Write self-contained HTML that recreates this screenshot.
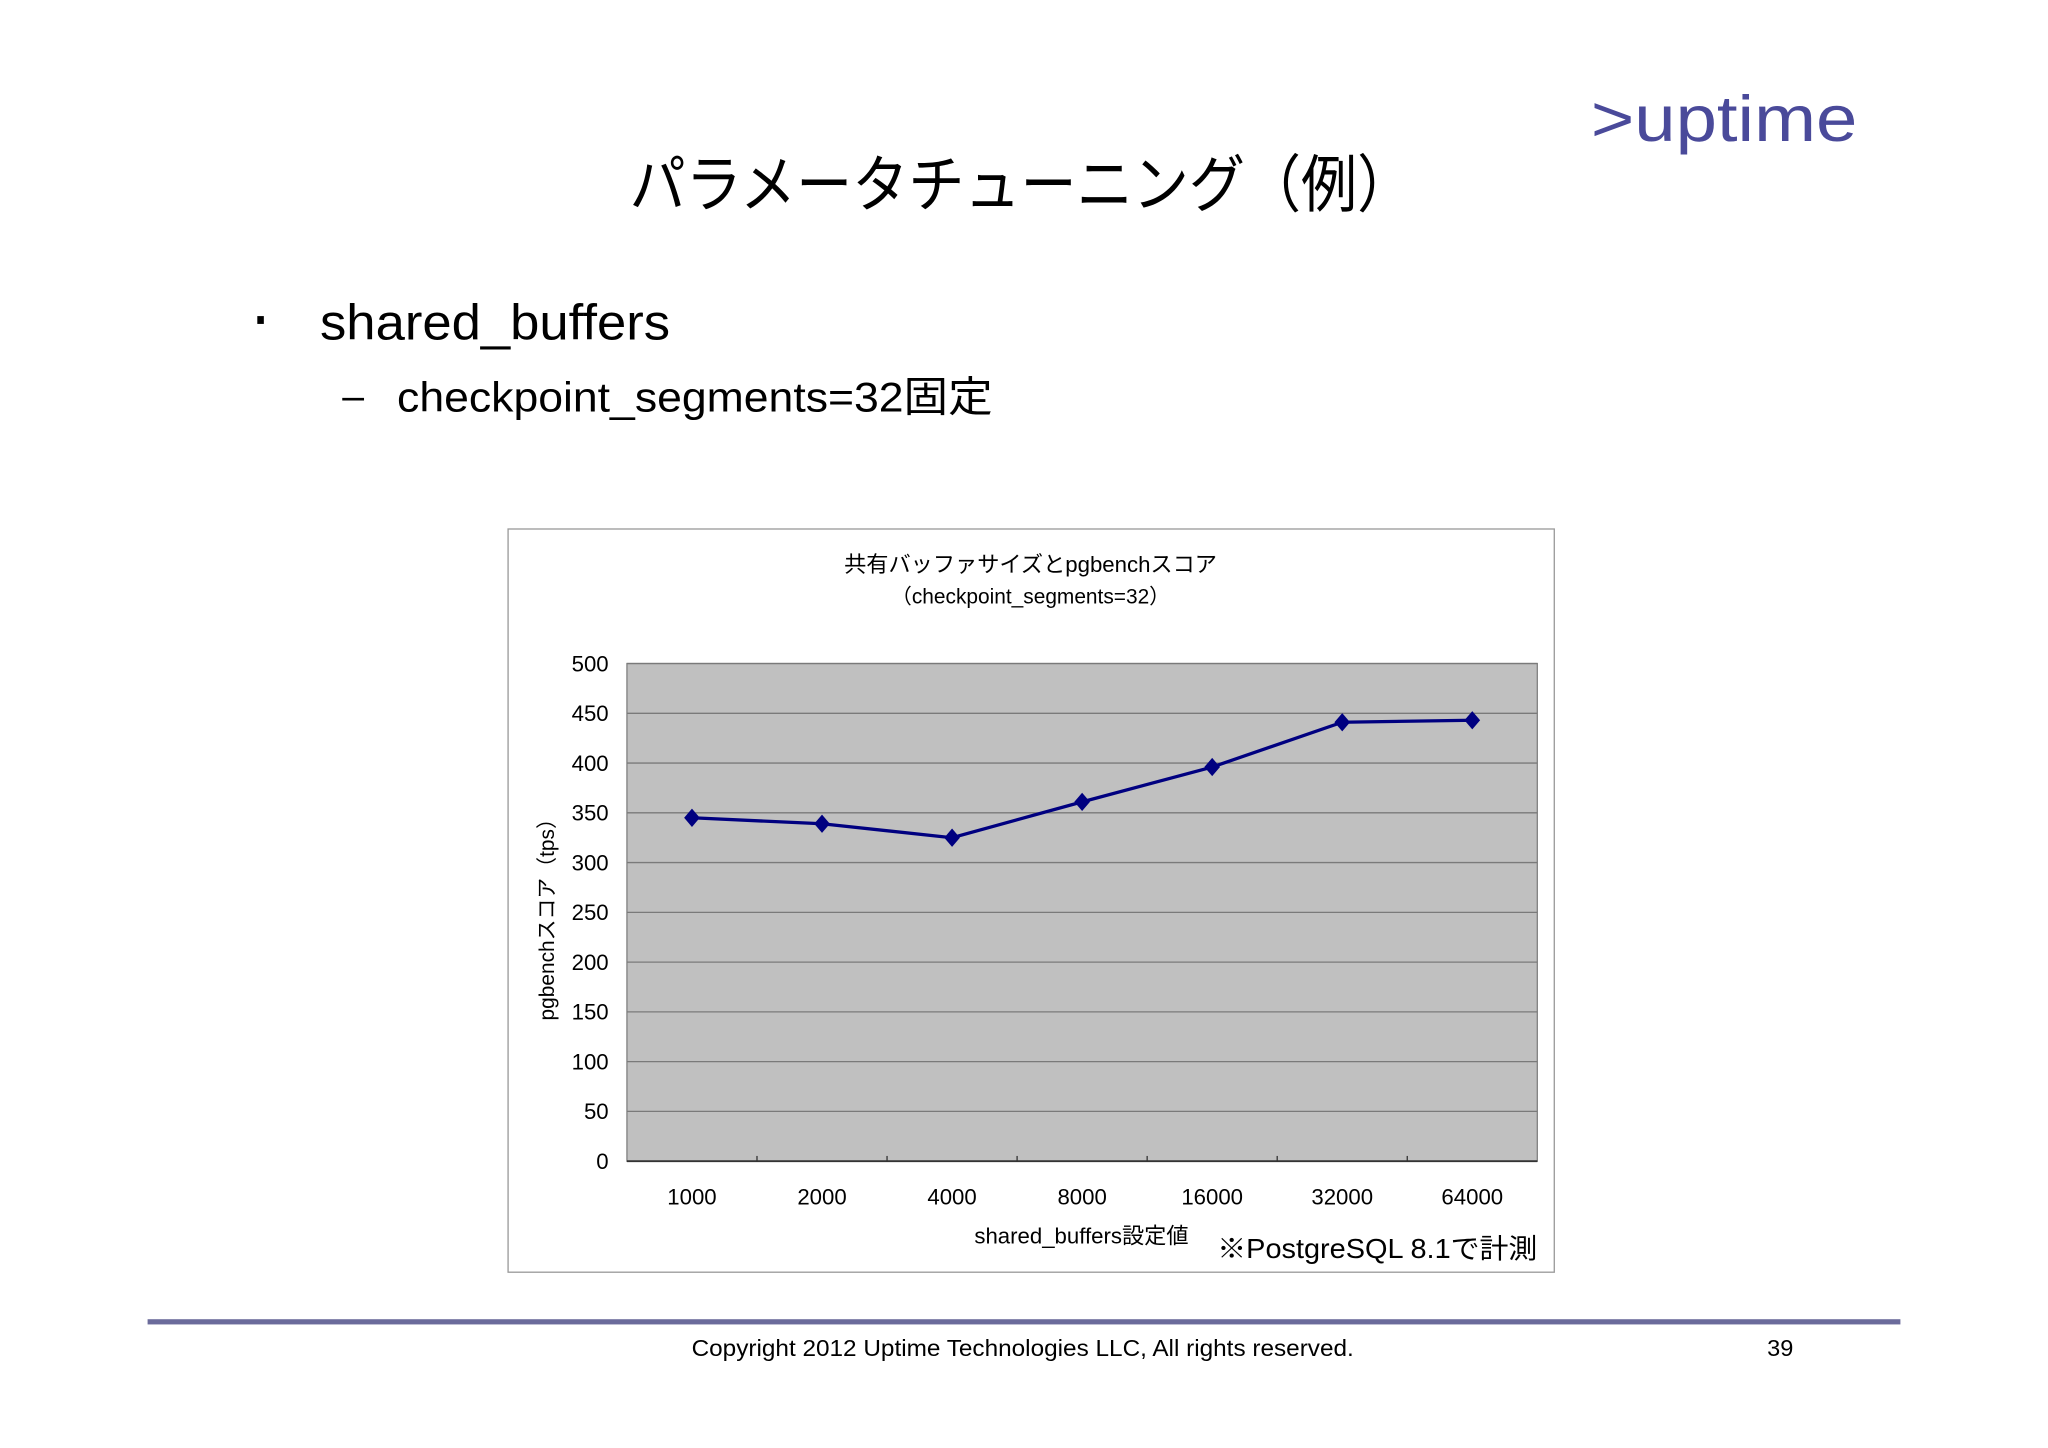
<!DOCTYPE html>
<html><head><meta charset="utf-8"><style>
html,body{margin:0;padding:0;background:#fff;}
svg{display:block;}
text{font-family:"Liberation Sans","Noto Sans CJK JP",sans-serif;}
</style></head><body>
<svg id="s" width="2048" height="1448" viewBox="0 0 1568 1108.6" preserveAspectRatio="none" xmlns="http://www.w3.org/2000/svg">
<rect width="1568" height="1108.6" fill="#fff"/>
<text x="1218" y="108" font-size="50" fill="#4a4a9a" font-family="DejaVu Sans" textLength="204" lengthAdjust="spacingAndGlyphs">&gt;uptime</text>
<text x="782" y="158" font-size="48" text-anchor="middle" textLength="600" lengthAdjust="spacingAndGlyphs">パラメータチューニング（例）</text>
<rect x="197" y="242" width="5" height="6" fill="#000"/>
<text x="245" y="260" font-size="38" textLength="268" lengthAdjust="spacingAndGlyphs">shared_buffers</text>
<text x="262" y="313" font-size="30">–</text>
<text x="304" y="315" font-size="32" textLength="456" lengthAdjust="spacingAndGlyphs">checkpoint_segments=32固定</text>
<rect x="389" y="405" width="801" height="569" fill="#fff" stroke="#999" stroke-width="1"/>
<text x="789" y="438" font-size="17" text-anchor="middle">共有バッファサイズとpgbenchスコア</text>
<text x="789" y="462" font-size="16" text-anchor="middle">（checkpoint_segments=32）</text>
<g id="plot"></g>
<text x="828" y="952" font-size="17" text-anchor="middle">shared_buffers設定値</text>
<text x="932" y="963" font-size="21" textLength="245" lengthAdjust="spacingAndGlyphs">※PostgreSQL 8.1で計測</text>
<text transform="translate(424,700) rotate(-90)" font-size="16" text-anchor="middle">pgbenchスコア（tps）</text>
<rect x="113" y="1010" width="1342" height="4" fill="#6b6b9b"/>
<text x="783" y="1038" font-size="18" text-anchor="middle" textLength="507" lengthAdjust="spacingAndGlyphs">Copyright 2012 Uptime Technologies LLC, All rights reserved.</text>
<text x="1363" y="1038" font-size="18" text-anchor="middle">39</text>
</svg>
<script>
const categories=["1000","2000","4000","8000","16000","32000","64000"];
const values=[345,339,325,361,396,441,443];
const yTicks=[0,50,100,150,200,250,300,350,400,450,500];
const NS="http://www.w3.org/2000/svg";
const L=480,R=1177,T=508,B=889,yMax=500;
const bw=(R-L)/categories.length;
const xs=i=>L+bw*(i+0.5);
const ys=v=>B-(v/yMax)*(B-T);
const g=document.getElementById('plot');
function mk(tag,attrs){const e=document.createElementNS(NS,tag);for(const k in attrs)e.setAttribute(k,attrs[k]);g.appendChild(e);return e;}
const bg=mk('rect',{x:L,y:T,width:R-L,height:B-T,fill:'#c0c0c0',stroke:'#808080','stroke-width':1});


yTicks.forEach(t=>{
  const ln=mk('line',{x1:L,x2:R,y1:ys(t),y2:ys(t),stroke:'#7a7a7a','stroke-width':1});
  
  
  const tx=mk('text',{x:L-14,y:ys(t)+6,'font-size':17,'text-anchor':'end'});
  tx.textContent=t;
  
  
});
const ax=mk('line',{x1:L,x2:R,y1:B,y2:B,stroke:'#333','stroke-width':1.5});


categories.forEach((c,i)=>{
  if(i>0){const tk=mk('line',{x1:L+bw*i,x2:L+bw*i,y1:B,y2:B-4,stroke:'#333'});
  
  }
  const tx=mk('text',{x:xs(i),y:922,'font-size':17,'text-anchor':'middle'});
  tx.textContent=c;
  
  
});
const pl=mk('polyline',{points:values.map((v,i)=>xs(i)+','+ys(v)).join(' '),fill:'none',stroke:'#000080','stroke-width':2.5});


values.forEach((v,i)=>{
  const x=xs(i),y=ys(v);
  const m=mk('polygon',{points:`${x},${y-7} ${x+6},${y} ${x},${y+7} ${x-6},${y}`,fill:'#000080'});
  
  
});
</script>
</body></html>
